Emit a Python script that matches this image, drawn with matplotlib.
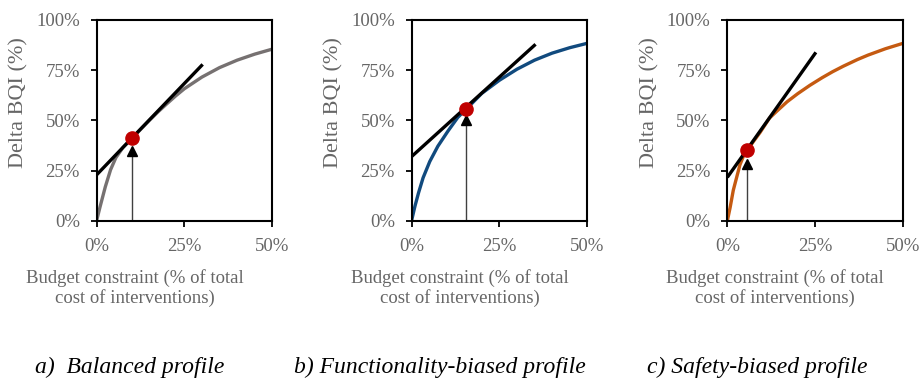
import matplotlib
matplotlib.use("Agg")
import matplotlib.pyplot as plt
from matplotlib.ticker import FuncFormatter

plt.rcParams['font.family'] = ['Liberation Serif', 'DejaVu Serif']

# budget (% of total cost) vs delta BQI (%) for each profile
bal_x = [0, 1, 2.5, 4, 5.5, 7.5, 10, 12.5, 15, 17.5, 20, 22.5, 25, 30, 35, 40, 45, 50]
bal_y = [0, 7, 17, 25.5, 31.5, 36.5, 41, 45.5, 50, 54.3, 58.3, 62.2, 65.8, 71.6, 76.3, 80, 83, 85.5]

fun_x = [0, 1, 2, 3.3, 5.2, 7.5, 10.4, 13.2, 15.5, 20, 25, 30, 35, 40, 45, 50]
fun_y = [0, 7.5, 14, 21.5, 29.6, 37.2, 44.8, 51.6, 55.5, 63.5, 70, 75.5, 80, 83.5, 86.2, 88.4]

saf_x = [0, 0.8, 1.7, 2.7, 3.6, 4.6, 5.8, 7.4, 9.3, 12, 14, 17, 20, 23.5, 27, 30, 33, 37, 40, 45, 50]
saf_y = [0, 6.7, 15.3, 22, 28, 32.3, 35.5, 39.5, 44, 51.2, 54.5, 59.3, 63.3, 67.5, 71.3, 74.3, 77, 80.3, 82.5, 85.7, 88.4]

# tangent segments (start x, start y, end x, end y)
tangents = [(0, 22.9, 30.2, 77.9), (0, 32, 35.3, 87.9), (0, 21.7, 25.2, 83.9)]
# optimal budget points
opt_x = [10, 15.5, 5.5]
opt_y = [41.2, 55.5, 35.2]
# arrow base / tip heights
arrow_base = [32.5, 47.4, 25.7]
arrow_tip = [37.2, 52.8, 31.3]

curves = [(bal_x, bal_y), (fun_x, fun_y), (saf_x, saf_y)]
colors = ['#767171', '#114a7e', '#c55a11']
captions = ['a)  Balanced profile', 'b) Functionality-biased profile', 'c) Safety-biased profile']

fig = plt.figure(figsize=(9.21, 3.82), dpi=100)
lefts = [0.1048, 0.4468, 0.7897]
xlab_pos = [0.22, 0.275, 0.271]
cap_x = [0.141, 0.478, 0.822]
gray = '#666666'

for i in range(3):
    ax = fig.add_axes([lefts[i], 0.4215, 0.1908, 0.5262])
    cx, cy = curves[i]
    ax.plot(cx, cy, color=colors[i], lw=2.4, solid_capstyle='butt')
    x0, y0, x1, y1 = tangents[i]
    ax.plot([x0, x1], [y0, y1], color='black', lw=2.4, solid_capstyle='butt')
    ax.plot([opt_x[i], opt_x[i]], [0, arrow_base[i]], color='#404040', lw=1.0)
    ax.plot(opt_x[i], (arrow_base[i] + arrow_tip[i]) / 2, marker='^', ms=7.5,
            color='black', ls='none')
    ax.plot(opt_x[i], opt_y[i], 'o', color='#c00000', ms=9.5, zorder=5)

    ax.set_xlim(0, 50)
    ax.set_ylim(0, 100)
    ax.set_xticks([0, 25, 50])
    ax.set_yticks([0, 25, 50, 75, 100])
    pct = FuncFormatter(lambda v, p: f"{v:.0f}%")
    ax.xaxis.set_major_formatter(pct)
    ax.yaxis.set_major_formatter(pct)
    ax.tick_params(length=4, width=1.3, color='black', labelcolor=gray,
                   labelsize=13.5, pad=8)
    for s in ax.spines.values():
        s.set_linewidth(1.5)
        s.set_color('black')

    ax.set_ylabel('Delta BQI (%)', color=gray, fontsize=16)
    ax.yaxis.set_label_coords(-0.385, 0.59)
    ax.set_xlabel('Budget constraint (% of total\ncost of interventions)',
                  color=gray, fontsize=13.5, linespacing=1.15)
    ax.xaxis.set_label_coords(xlab_pos[i], -0.24)
    ax.xaxis.label.set_va('top')

    fig.text(cap_x[i], 0.037, captions[i], style='italic', fontsize=17,
             ha='center', va='center', color='black')

fig.savefig('out.png', dpi=100)
